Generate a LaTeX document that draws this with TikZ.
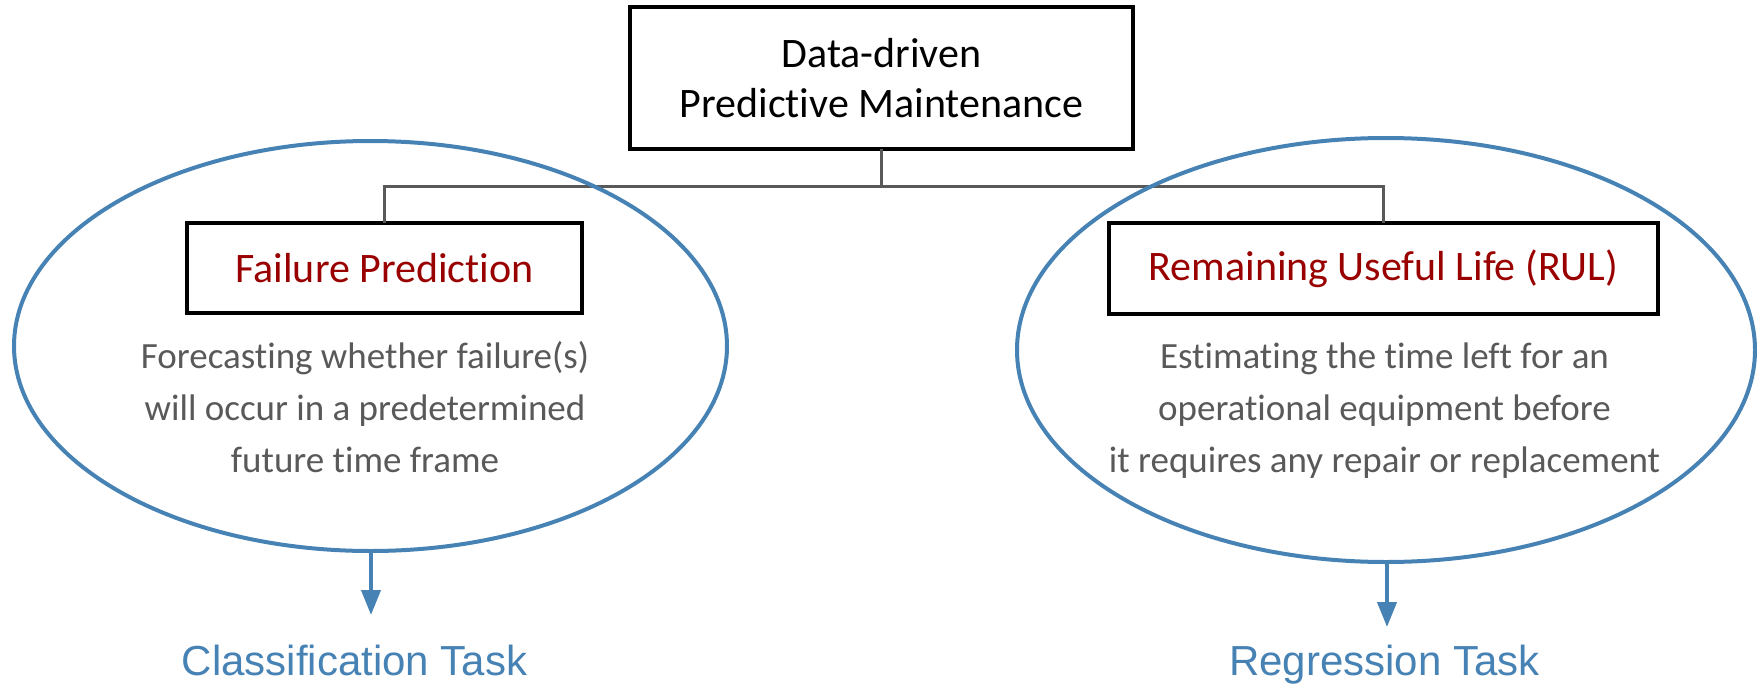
\documentclass[tikz,border=0pt]{standalone}
\usepackage{fontspec}
\setmainfont{Carlito}[Ligatures={NoCommon}]
\newfontfamily\labelfont{Liberation Sans}
\usetikzlibrary{shapes.geometric,arrows.meta}
\definecolor{ovalblue}{RGB}{70,130,180}
\definecolor{titlered}{RGB}{153,0,0}
\definecolor{bodygray}{RGB}{89,89,89}
\definecolor{linkgray}{RGB}{89,89,89}

\begin{document}
\begin{tikzpicture}[x=1pt,y=-1pt,
  box/.style={draw=black,line width=3.5pt,inner sep=0pt,outer sep=0pt,align=center},
  oval/.style={ellipse,draw=ovalblue,line width=4pt,inner sep=0pt,outer sep=0pt},
  conn/.style={draw=linkgray,line width=3pt},
  desc/.style={anchor=base,text=bodygray,font=\fontsize{37}{44}\selectfont,inner sep=0pt},
  task/.style={anchor=base,text=ovalblue,font=\labelfont\fontsize{42}{50}\selectfont,inner sep=0pt},
  flow/.style={draw=ovalblue,line width=4pt,-{Triangle[length=25pt,width=19pt]}}
]
\useasboundingbox (0,0) rectangle (1757,683);

% root and the two task boxes
\node[box,minimum width=503pt,minimum height=142pt,font=\fontsize{42}{50}\selectfont]
  (root) at (881.5,78) {Data-driven\\Predictive Maintenance};
\node[box,minimum width=395pt,minimum height=90pt,text=titlered,font=\fontsize{42}{50}\selectfont]
  (fp) at (384.5,268) {Failure Prediction};
\node[box,minimum width=549pt,minimum height=91pt,text=titlered,font=\fontsize{42}{50}\selectfont]
  (rul) at (1383.5,268.5) {Remaining Useful Life (RUL)};

% tree connectors
\draw[conn] (root.south) -- ++(0,37) coordinate (split);
\draw[conn] (fp.north) |- (split) -| (rul.north);

% ovals grouping each task
\node[oval,minimum width=713pt,minimum height=410pt] (lov) at (370.5,346) {};
\node[oval,minimum width=738pt,minimum height=424pt] (rov) at (1386,350) {};

% descriptions
\node[desc] (fpd1) at (365,368) {Forecasting whether failure(s)};
\node[desc] (fpd2) at (365,420) {will occur in a predetermined};
\node[desc] (fpd3) at (365,472) {future time frame};
\node[desc] (rud1) at (1384.5,368) {Estimating the time left for an};
\node[desc] (rud2) at (1384.5,420) {operational equipment before};
\node[desc] (rud3) at (1384.5,472) {it requires any repair or replacement};

% resulting task types
\coordinate (ltip) at (371,615);
\coordinate (rtip) at (1387,627);
\draw[flow] (lov.south -| ltip) -- (ltip);
\draw[flow] (rov.south -| rtip) -- (rtip);
\node[task] (cls) at (354.5,675) {Classification Task};
\node[task] (reg) at (1384.5,675) {Regression Task};
\end{tikzpicture}
\end{document}
